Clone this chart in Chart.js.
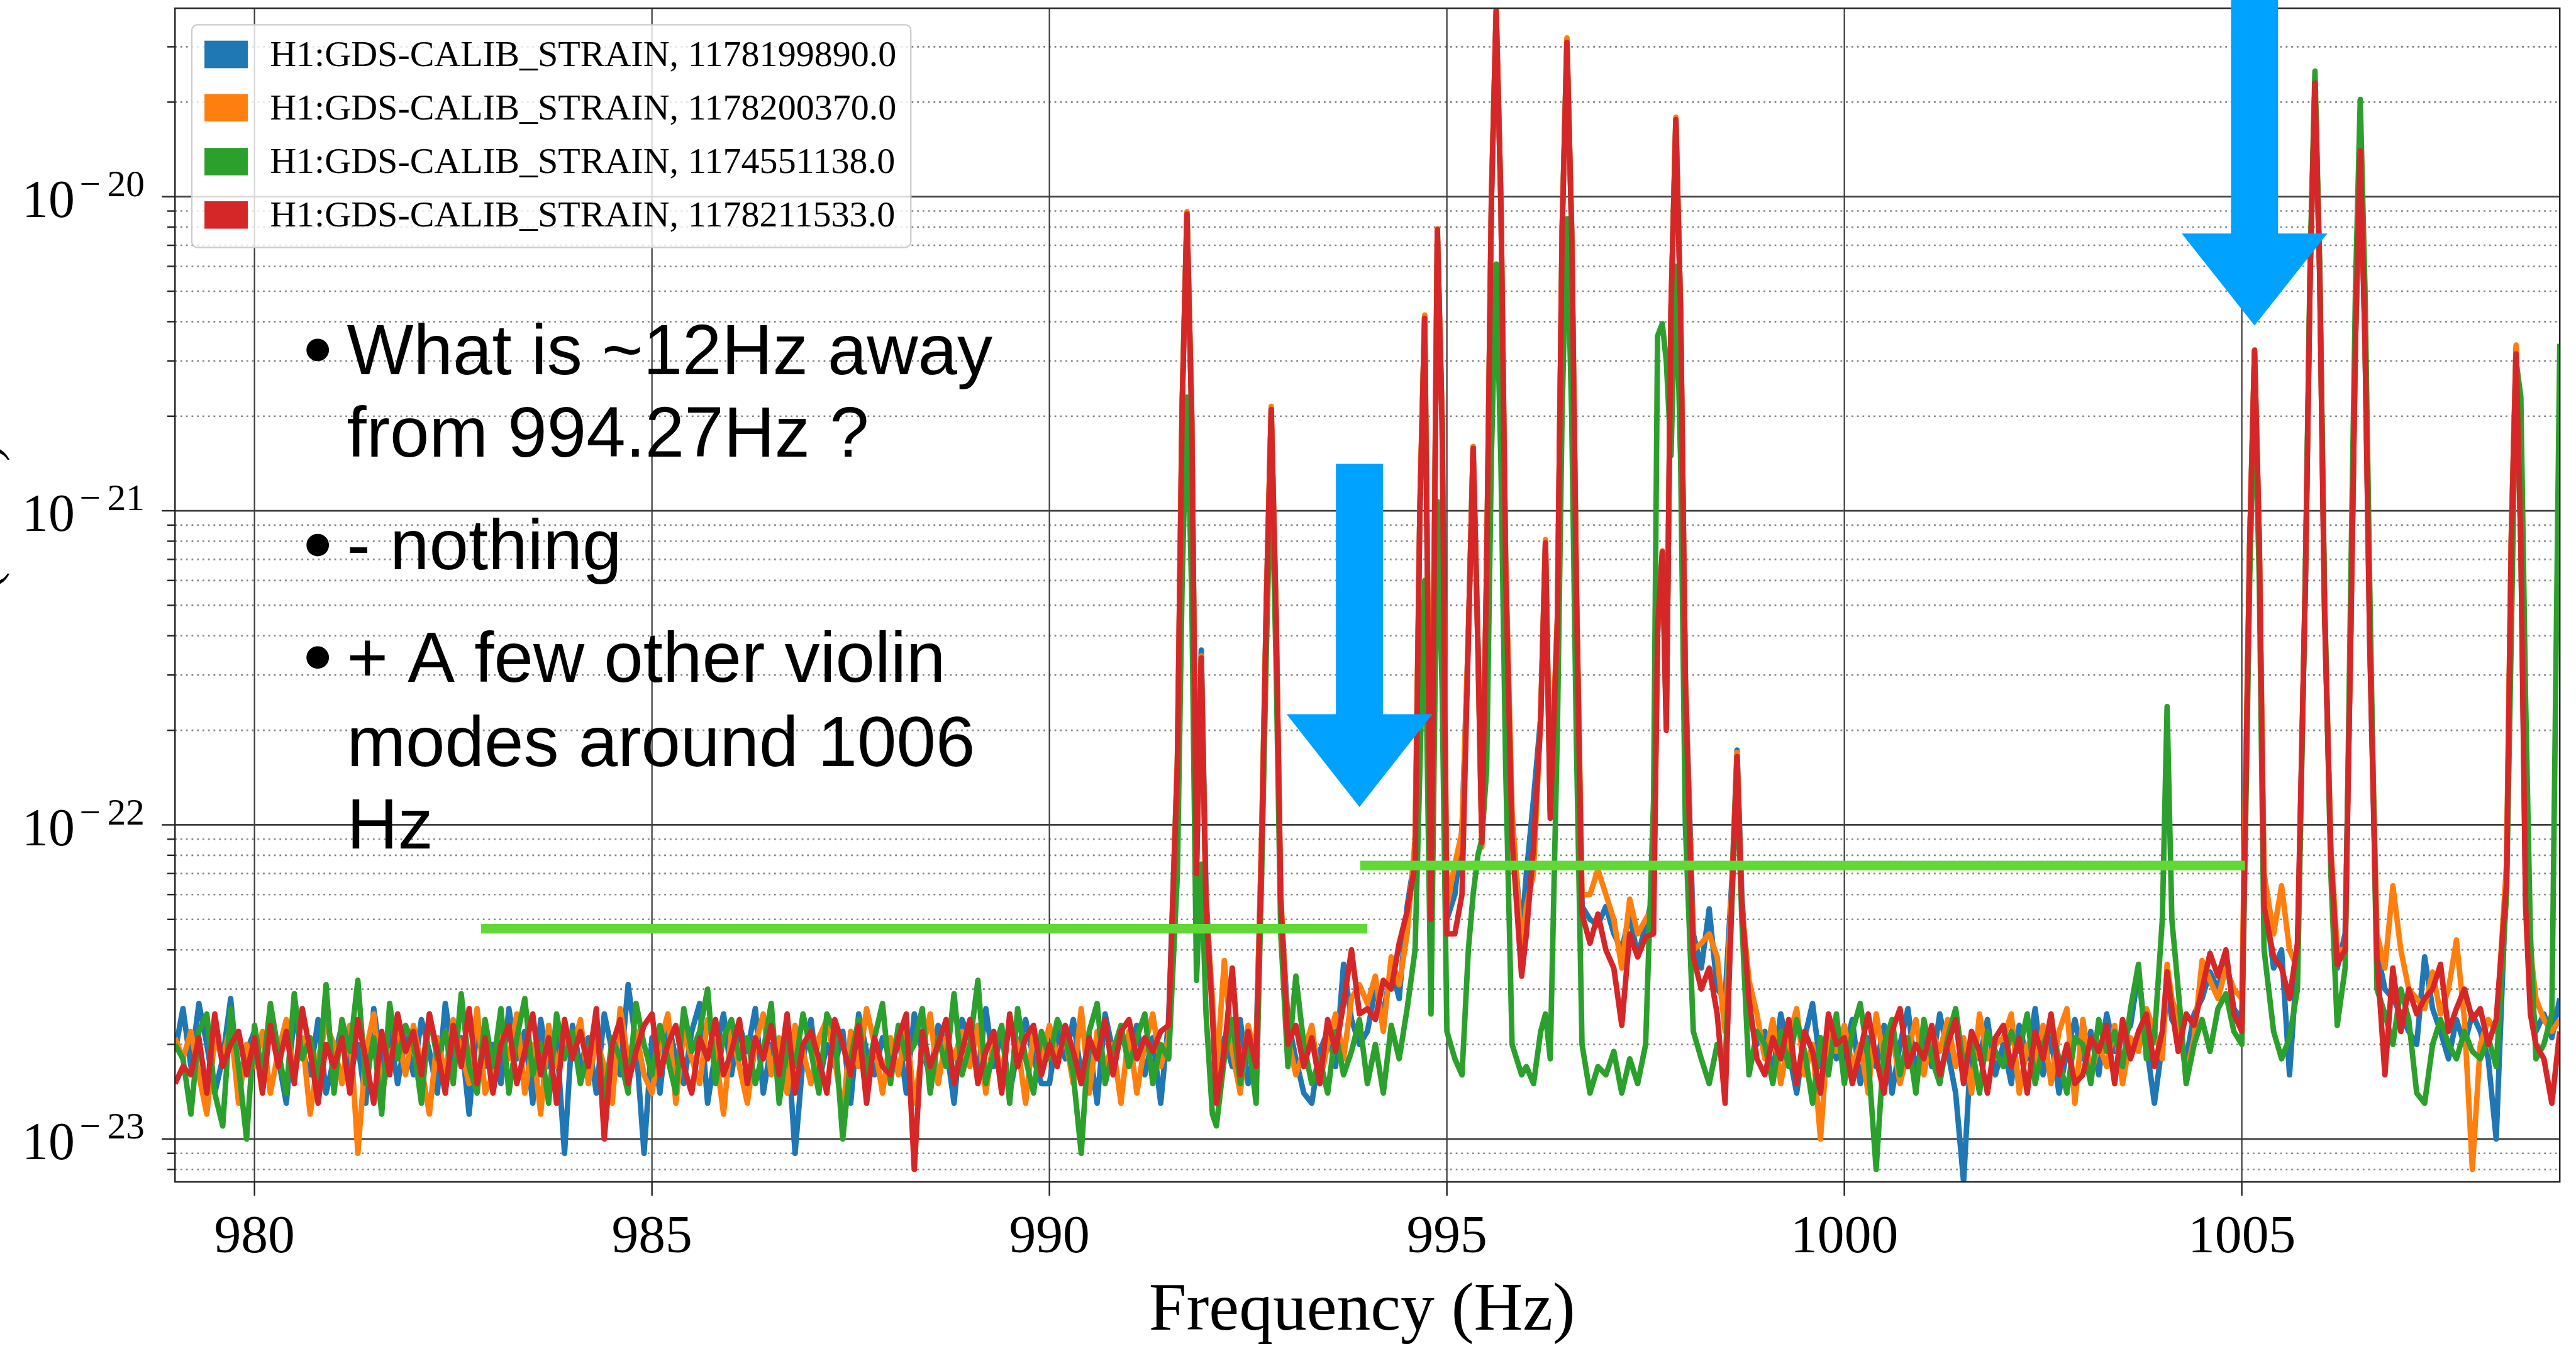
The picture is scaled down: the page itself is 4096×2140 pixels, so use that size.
<!DOCTYPE html>
<html>
<head>
<meta charset="utf-8">
<title>H1 strain spectra around the 1 kHz violin modes</title>
<script src="https://cdn.jsdelivr.net/npm/chart.js@4.4.1/dist/chart.umd.min.js"></script>
<style>
  html, body { margin: 0; padding: 0; background: #fff; overflow: hidden; }
  #wrap { width: 4096px; height: 2140px; }
</style>
</head>
<body>
<div id="wrap"><canvas id="asd" width="4096" height="2140"></canvas></div>
<script>
// Sample frequencies (Hz), shared by the four spectra.
// 0.1 Hz apart in the noise, closer around the violin-mode lines.
const freqs = [
  979, 979.1, 979.2, 979.3, 979.4, 979.5, 979.6, 979.7, 979.8, 979.9,
  980, 980.1, 980.2, 980.3, 980.4, 980.5, 980.6, 980.7, 980.8, 980.9,
  981, 981.1, 981.2, 981.3, 981.4, 981.5, 981.6, 981.7, 981.8, 981.9,
  982, 982.1, 982.2, 982.3, 982.4, 982.5, 982.6, 982.7, 982.8, 982.9,
  983, 983.1, 983.2, 983.3, 983.4, 983.5, 983.6, 983.7, 983.8, 983.9,
  984, 984.1, 984.2, 984.3, 984.4, 984.5, 984.6, 984.7, 984.8, 984.9,
  985, 985.1, 985.2, 985.3, 985.4, 985.5, 985.6, 985.7, 985.8, 985.9,
  986, 986.1, 986.2, 986.3, 986.4, 986.5, 986.6, 986.7, 986.8, 986.9,
  987, 987.1, 987.2, 987.3, 987.4, 987.5, 987.6, 987.7, 987.8, 987.9,
  988, 988.1, 988.2, 988.3, 988.4, 988.5, 988.6, 988.7, 988.8, 988.9,
  989, 989.1, 989.2, 989.3, 989.4, 989.5, 989.6, 989.7, 989.8, 989.9,
  990, 990.1, 990.2, 990.3, 990.4, 990.5, 990.6, 990.7, 990.8, 990.9,
  991, 991.1, 991.2, 991.3, 991.4, 991.5, 991.61, 991.67, 991.73, 991.79, 991.85, 991.91, 991.97,
  992.05, 992.1, 992.2, 992.3, 992.4, 992.5, 992.6, 992.67, 992.73, 992.79, 992.85, 992.91,
  993, 993.1, 993.2, 993.3, 993.4, 993.5, 993.6, 993.7, 993.8, 993.9,
  994, 994.1, 994.2, 994.3, 994.4, 994.5, 994.6, 994.66, 994.72, 994.8, 994.88, 994.94,
  995, 995.1, 995.19, 995.27, 995.33, 995.39, 995.44, 995.5, 995.56, 995.62, 995.68, 995.74, 995.82, 995.94,
  996, 996.09, 996.18, 996.24, 996.3, 996.39, 996.45, 996.51, 996.57, 996.63, 996.7, 996.8, 996.9,
  997, 997.1, 997.2, 997.3, 997.4, 997.5, 997.6, 997.65, 997.71, 997.76, 997.82, 997.88, 997.94,
  998, 998.1, 998.2, 998.3, 998.4, 998.5, 998.59, 998.65, 998.71, 998.8, 998.9,
  999, 999.1, 999.2, 999.3, 999.4, 999.5, 999.6, 999.7, 999.8, 999.9,
  1000, 1000.1, 1000.2, 1000.3, 1000.4, 1000.5, 1000.6, 1000.7, 1000.8, 1000.9,
  1001, 1001.1, 1001.2, 1001.3, 1001.4, 1001.5, 1001.6, 1001.7, 1001.8, 1001.9,
  1002, 1002.1, 1002.2, 1002.3, 1002.4, 1002.5, 1002.6, 1002.7, 1002.8, 1002.9,
  1003, 1003.1, 1003.2, 1003.3, 1003.4, 1003.5, 1003.6, 1003.7, 1003.8, 1003.9,
  1004, 1004.06, 1004.12, 1004.2, 1004.3, 1004.4, 1004.5, 1004.6, 1004.7, 1004.8, 1004.9,
  1005, 1005.1, 1005.16, 1005.22, 1005.28, 1005.4, 1005.5, 1005.6, 1005.7, 1005.8, 1005.86, 1005.92, 1005.98,
  1006.04, 1006.12, 1006.2, 1006.3, 1006.37, 1006.43, 1006.49, 1006.55, 1006.61, 1006.7, 1006.8, 1006.9,
  1007, 1007.1, 1007.2, 1007.3, 1007.4, 1007.5, 1007.6, 1007.7, 1007.8, 1007.9,
  1008, 1008.1, 1008.2, 1008.33, 1008.39, 1008.45, 1008.51, 1008.57, 1008.63, 1008.7, 1008.8, 1008.9,
  1009
];

// ASD values in units of 1e-24 strain/sqrt(Hz), one row per Hz
const unit = 1e-24;

const blueAsd = [
  19, 26, 17, 27, 20, 14, 18, 28, 15, 19,
  22, 15, 24, 18, 13, 25, 19, 16, 24, 14,
  18, 23, 16, 20, 13, 26, 17, 22, 15, 21,
  16, 24, 19, 14, 27, 18, 21, 12, 23, 17,
  20, 15, 26, 18, 22, 13, 24, 17, 21, 9,
  23, 17, 21, 14, 25, 19, 16, 31, 20, 9,
  21, 14, 24, 18, 15, 22, 27, 13, 19, 25,
  16, 23, 19, 26, 14, 20, 17, 22, 9, 18,
  24, 15, 20, 17, 22, 13, 25, 19, 16, 21,
  18, 22, 14, 25, 19, 16, 23, 20, 13, 24,
  21, 16, 26, 17, 22, 14, 19, 24, 18, 15,
  15, 22, 18, 24, 16, 20, 13, 25, 19, 21,
  19, 23, 16, 21, 13, 24, 160, 2200, 8900, 2000, 72, 360, 60,
  26, 14, 21, 17, 24, 15, 20, 90, 520, 2120, 480, 55,
  24, 18, 14, 13, 19, 22, 17, 36, 24, 20,
  22, 30, 25, 35, 28, 55, 80, 1000, 4150, 60, 7800, 1900,
  50, 60, 97, 400, 1600, 380, 90, 650, 9800, 39000, 9500, 650, 100, 45,
  70, 121, 220, 800, 110, 450, 7900, 31500, 7700, 550, 55, 50, 48,
  55, 45, 40, 52, 38, 48, 60, 400, 720, 220, 4400, 17700, 4300,
  300, 45, 35, 54, 30, 28, 70, 173, 60, 25, 20,
  22, 16, 25, 19, 14, 21, 27, 17, 23, 18,
  19, 24, 15, 21, 17, 23, 14, 20, 26, 16,
  22, 17, 25, 19, 14, 7.3, 21, 18, 24, 16,
  20, 15, 23, 18, 26, 16, 21, 14, 19, 24,
  18, 22, 16, 25, 19, 21, 23, 34, 20, 13,
  20, 30, 24, 22, 18, 25, 28, 34, 30, 38, 26,
  24, 800, 3200, 780, 60, 35, 40, 16, 38, 600, 5800, 23000, 5600,
  500, 80, 35, 45, 400, 3500, 14000, 3400, 380, 40, 30, 28,
  25, 22, 20, 38, 26, 22, 18, 24, 20, 25,
  22, 18, 10, 70, 820, 3300, 800, 60, 30, 22, 25, 21,
  28
];

const orangeAsd = [
  21, 18, 22, 16, 12, 21, 18, 23, 13, 20,
  17, 22, 14, 19, 24, 16, 21, 12, 18, 23,
  20, 15, 23, 9, 19, 25, 14, 18, 22, 16,
  23, 17, 12, 21, 16, 24, 19, 15, 26, 14,
  16, 22, 18, 25, 14, 20, 12, 23, 17, 21,
  19, 24, 15, 21, 17, 13, 26, 18, 22, 16,
  14, 20, 25, 13, 22, 18, 15, 24, 19, 12,
  22, 17, 13, 20, 25, 16, 21, 14, 23, 19,
  15, 21, 24, 18, 12, 22, 17, 26, 20, 14,
  21, 16, 23, 13, 19, 25, 15, 21, 18, 22,
  17, 23, 14, 21, 16, 24, 20, 13, 22, 18,
  23, 18, 21, 15, 26, 14, 22, 17, 20, 13,
  22, 14, 20, 25, 17, 21, 165, 2250, 8950, 2050, 75, 345, 55,
  28, 16, 37, 19, 14, 23, 18, 95, 530, 2150, 490, 60,
  21, 16, 19, 23, 15, 20, 25, 18, 28, 31,
  27, 33, 22, 38, 31, 45, 90, 1050, 4200, 70, 7900, 1950,
  55, 75, 95, 400, 1600, 370, 85, 670, 9900, 39500, 9600, 680, 110, 40,
  55, 70, 225, 810, 115, 460, 8000, 32000, 7800, 570, 60, 60, 72,
  60, 50, 35, 58, 45, 50, 55, 410, 745, 215, 4500, 17900, 4400,
  290, 40, 42, 45, 38, 22, 68, 170, 55, 32, 25,
  18, 24, 15, 21, 26, 16, 20, 10, 23, 19,
  23, 17, 20, 14, 25, 18, 22, 15, 19, 24,
  16, 22, 19, 24, 17, 21, 14, 25, 18, 20,
  21, 25, 14, 20, 17, 23, 15, 22, 26, 13,
  24, 16, 20, 17, 23, 15, 21, 19, 26, 22,
  18, 36, 28, 24, 16, 21, 37, 32, 28, 35, 30,
  28, 820, 3250, 800, 70, 45, 64, 40, 35, 620, 5900, 23500, 5700,
  520, 85, 40, 40, 410, 3550, 14200, 3450, 400, 45, 35, 64,
  40, 30, 28, 26, 34, 25, 30, 43, 24, 8,
  20, 24, 22, 75, 840, 3370, 820, 70, 40, 28, 24, 22,
  24
];

const greenAsd = [
  20, 18, 12, 22, 25, 14, 11, 26, 17, 10,
  23, 16, 27, 19, 14, 29, 18, 21, 15, 31,
  14, 24, 19, 32, 15, 21, 12, 27, 18, 23,
  20, 13, 25, 18, 22, 15, 29, 17, 14, 24,
  17, 26, 14, 21, 28, 16, 20, 13, 25, 18,
  22, 15, 19, 24, 13, 21, 18, 14, 27, 20,
  16, 23, 18, 14, 26, 19, 22, 30, 15, 21,
  24, 18, 21, 15, 19, 27, 13, 20, 17, 25,
  19, 14, 25, 22, 10, 18, 24, 16, 21, 27,
  15, 23, 18, 20, 26, 14, 21, 17, 29, 16,
  20, 32, 15, 19, 23, 13, 26, 18, 14, 22,
  18, 24, 21, 16, 9, 22, 27, 15, 19, 23,
  17, 21, 25, 15, 20, 18, 70, 600, 2300, 550, 32, 75, 25,
  12, 11, 18, 24, 15, 21, 13, 70, 370, 1500, 340, 45,
  17, 33, 20, 15, 18, 14, 22, 16, 19, 24,
  15, 20, 14, 23, 18, 26, 40, 150, 600, 25, 1070, 270,
  22, 18, 16, 40, 60, 80, 90, 150, 1500, 6100, 1400, 150, 20, 16,
  17, 15, 22, 25, 18, 200, 2100, 8500, 2000, 180, 20, 14, 17,
  16, 19, 14, 18, 15, 20, 120, 3600, 3940, 3000, 1500, 6000, 1450,
  100, 22, 18, 15, 20, 17, 60, 150, 50, 16, 22,
  20, 15, 22, 17, 24, 19, 13, 21, 16, 25,
  15, 22, 27, 18, 8, 20, 24, 16, 21, 14,
  24, 18, 15, 21, 26, 17, 20, 14, 22, 19,
  17, 22, 19, 25, 15, 20, 23, 18, 14, 21,
  20, 15, 24, 19, 22, 17, 26, 36, 18, 21,
  50, 238, 50, 30, 15, 20, 24, 19, 26, 29, 22,
  20, 620, 2500, 600, 40, 22, 18, 21, 30, 640, 6300, 25100, 6100,
  540, 70, 23, 35, 580, 5100, 20400, 5000, 560, 30, 25, 20,
  30, 24, 14, 13, 20, 24, 20, 18, 22, 19,
  18, 21, 17, 60, 400, 3000, 2300, 250, 45, 18, 20, 25,
  3400
];

const redAsd = [
  15, 17, 16, 21, 14, 25, 17, 20, 22, 16,
  21, 14, 23, 17, 22, 15, 26, 19, 13, 20,
  17, 21, 14, 24, 18, 13, 22, 16, 25, 19,
  22, 16, 25, 19, 14, 23, 17, 26, 15, 21,
  14, 20, 23, 15, 19, 25, 16, 21, 13, 24,
  18, 22, 17, 26, 10, 20, 24, 15, 19, 23,
  25, 16, 20, 23, 17, 14, 21, 18, 24, 16,
  19, 24, 15, 21, 18, 23, 16, 25, 14, 20,
  22, 18, 14, 24, 20, 16, 23, 13, 21, 17,
  16, 21, 25, 8, 22, 17, 20, 24, 15, 19,
  24, 15, 19, 22, 14, 25, 17, 21, 23, 16,
  20, 17, 23, 19, 15, 21, 18, 24, 16, 22,
  24, 18, 21, 19, 22, 23, 155, 2150, 8800, 1950, 70, 340, 55,
  25, 13, 19, 35, 16, 22, 17, 85, 510, 2100, 470, 58,
  20, 23, 17, 21, 15, 24, 19, 27, 40, 25,
  26, 24, 32, 30, 42, 53, 75, 1000, 4100, 50, 7850, 1900,
  45, 45, 60, 395, 1580, 375, 88, 640, 9700, 39000, 9400, 620, 90, 33,
  45, 85, 215, 790, 105, 440, 7800, 31000, 7600, 530, 52, 42, 52,
  40, 35, 23, 45, 38, 44, 45, 420, 740, 200, 4400, 17600, 4300,
  280, 38, 30, 35, 25, 13, 65, 165, 55, 28, 18,
  16, 21, 18, 24, 15, 22, 19, 14, 25, 20,
  21, 15, 19, 25, 18, 14, 22, 26, 17, 20,
  18, 23, 16, 20, 24, 15, 22, 19, 14, 21,
  23, 17, 21, 14, 22, 18, 25, 16, 20, 15,
  16, 21, 19, 23, 15, 24, 18, 22, 25, 17,
  22, 34, 26, 19, 25, 23, 30, 39, 33, 40, 25,
  22, 800, 3240, 790, 55, 38, 35, 28, 42, 590, 5700, 23000, 5500,
  480, 80, 36, 40, 390, 3500, 14000, 3400, 370, 38, 16, 35,
  22, 30, 25, 28, 30, 36, 22, 26, 30, 24,
  26, 20, 24, 65, 800, 3160, 780, 55, 25, 20, 18, 13,
  22
];

const seriesLabels = [
  'H1:GDS-CALIB_STRAIN, 1178199890.0',
  'H1:GDS-CALIB_STRAIN, 1178200370.0',
  'H1:GDS-CALIB_STRAIN, 1174551138.0',
  'H1:GDS-CALIB_STRAIN, 1178211533.0'
];
const seriesColors = ['#1f77b4', '#ff7f0e', '#2ca02c', '#d62728'];

const xTicks = [980, 985, 990, 995, 1000, 1005];
const xTitle = 'Frequency (Hz)';
const yDecades = [-24, -23, -22, -21, -20];
const yMantissas = [1, 2, 3, 4, 5, 6, 7, 8, 9];

// slide notes put on top of the plot
const noteText = [
  'What is ~12Hz away',
  'from 994.27Hz ?',
  '- nothing',
  '+ A few other violin',
  'modes around 1006',
  'Hz'
];
const noteBullet = [true, false, true, true, false, false];

// arrows and guide bars, in data coordinates
const arrowFreq = [993.9, 1005.16];
const arrowTip = [1.14e-22, 3.89e-21];
const arrowHead = [2.25e-22, 7.63e-21];
const arrowTail = [1.41e-21, 1e-19];
const barFrom = [982.85, 993.91];
const barTo = [994.0, 1005.04];
const barLevel = [4.67e-23, 7.42e-23];

[blueAsd, orangeAsd, greenAsd, redAsd].forEach((a, i) => {
  if (a.length !== freqs.length) throw new Error('series ' + i + ' has ' + a.length + ' values, freqs has ' + freqs.length);
});

// everything is laid out in reference pixels, drawn at 0.874
const px = v => v * 0.874;

const serif = '"Liberation Serif", "DejaVu Serif", serif';
const sans = '"Liberation Sans", Arial, sans-serif';

function fitSize(ctx, text, width, family) {
  ctx.font = '100px ' + family;
  return 100 * width / ctx.measureText(text).width;
}

function hline(ctx, x0, x1, y) {
  ctx.beginPath(); ctx.moveTo(x0, y); ctx.lineTo(x1, y); ctx.stroke();
}
function vline(ctx, x, y0, y1) {
  ctx.beginPath(); ctx.moveTo(x, y0); ctx.lineTo(x, y1); ctx.stroke();
}

const gridPlugin = {
  id: 'mplGrid',
  beforeDatasetsDraw(chart) {
    const { ctx, chartArea: a, scales: { x, y } } = chart;
    ctx.save();
    ctx.beginPath();
    ctx.rect(a.left, a.top, a.right - a.left, a.bottom - a.top);
    ctx.clip();
    // minor rows, dotted
    ctx.strokeStyle = '#858585';
    ctx.lineWidth = px(3);
    ctx.setLineDash([px(3.2), px(6.8)]);
    y.ticks.forEach(t => {
      if (!t.major) hline(ctx, a.left, a.right, y.getPixelForValue(t.value));
    });
    // major rows and columns
    ctx.setLineDash([]);
    ctx.strokeStyle = '#404040';
    ctx.lineWidth = px(3.2);
    y.ticks.forEach(t => {
      if (t.major) hline(ctx, a.left, a.right, y.getPixelForValue(t.value));
    });
    ctx.lineWidth = px(2.6);
    x.ticks.forEach(t => vline(ctx, x.getPixelForValue(t.value), a.top, a.bottom));
    ctx.restore();
  },
  afterDatasetsDraw(chart) {
    const { ctx, chartArea: a, scales: { x, y } } = chart;
    ctx.save();

    // spines
    ctx.strokeStyle = '#262626';
    ctx.lineWidth = px(2.8);
    ctx.strokeRect(a.left, a.top, a.right - a.left, a.bottom - a.top);

    // tick marks
    y.ticks.forEach(t => {
      const yy = y.getPixelForValue(t.value);
      hline(ctx, a.left - (t.major ? px(24) : px(14)), a.left, yy);
    });
    x.ticks.forEach(t => {
      vline(ctx, x.getPixelForValue(t.value), a.bottom, a.bottom + px(25));
    });

    // tick labels
    ctx.fillStyle = '#000';
    ctx.textBaseline = 'alphabetic';
    ctx.font = px(98) + 'px ' + serif;
    ctx.textAlign = 'center';
    x.ticks.forEach(t => ctx.fillText(String(t.value), x.getPixelForValue(t.value), px(2278)));

    y.ticks.forEach(t => {
      if (!t.major) return;
      const yy = y.getPixelForValue(t.value);
      const expo = Math.round(Math.log10(t.value));
      ctx.font = px(96) + 'px ' + serif;
      ctx.textAlign = 'left';
      ctx.fillText('10', px(40), yy + px(37));
      ctx.font = px(68) + 'px ' + serif;
      ctx.textAlign = 'center';
      ctx.fillText('\u2212', px(164), yy - px(1));
      ctx.textAlign = 'right';
      ctx.fillText(String(Math.abs(expo)), px(263), yy - px(1));
    });

    // axis title
    const ts = fitSize(ctx, xTitle, px(776), serif);
    ctx.font = ts + 'px ' + serif;
    ctx.textAlign = 'center';
    ctx.fillText(xTitle, px(2478), px(2419));

    // y title: only the ends of its brackets show at the page edge
    [['(', 1056], [')', 824]].forEach(([ch, cy]) => {
      ctx.save();
      ctx.font = px(92) + 'px ' + serif;
      ctx.textAlign = 'center';
      ctx.translate(px(-2), px(cy));
      ctx.rotate(-Math.PI / 2);
      ctx.fillText(ch, 0, 0);
      ctx.restore();
    });

    // legend
    const L = px(349), T = px(45), R = px(1657), B = px(450), rad = px(10);
    ctx.beginPath();
    ctx.moveTo(L + rad, T);
    ctx.arcTo(R, T, R, B, rad);
    ctx.arcTo(R, B, L, B, rad);
    ctx.arcTo(L, B, L, T, rad);
    ctx.arcTo(L, T, R, T, rad);
    ctx.closePath();
    ctx.fillStyle = 'rgba(255,255,255,0.8)';
    ctx.fill();
    ctx.strokeStyle = '#cccccc';
    ctx.lineWidth = px(2.6);
    ctx.stroke();
    const ls = fitSize(ctx, seriesLabels[0], px(1140), serif);
    ctx.font = ls + 'px ' + serif;
    ctx.textAlign = 'left';
    const rowMid = [99, 196, 294, 391];
    chart.data.datasets.forEach((ds, i) => {
      const cy = px(rowMid[i]);
      ctx.fillStyle = ds.borderColor;
      ctx.fillRect(px(372), cy - px(25), px(79), px(50));
      ctx.fillStyle = '#000';
      ctx.fillText(ds.label, px(491), cy + px(21));
    });

    // green guide bars
    ctx.strokeStyle = '#62d836';
    ctx.lineWidth = px(17.6);
    ctx.lineCap = 'butt';
    barFrom.forEach((f, i) => {
      hline(ctx, x.getPixelForValue(f), x.getPixelForValue(barTo[i]), y.getPixelForValue(barLevel[i]));
    });

    // blue arrows
    ctx.fillStyle = '#00a2ff';
    const sw = px(85.6) / 2, hw = px(265) / 2;
    arrowFreq.forEach((f, i) => {
      const cx = x.getPixelForValue(f);
      const tip = y.getPixelForValue(arrowTip[i]);
      const head = y.getPixelForValue(arrowHead[i]);
      const tail = y.getPixelForValue(arrowTail[i]);
      ctx.beginPath();
      ctx.moveTo(cx - sw, tail);
      ctx.lineTo(cx + sw, tail);
      ctx.lineTo(cx + sw, head);
      ctx.lineTo(cx + hw, head);
      ctx.lineTo(cx, tip);
      ctx.lineTo(cx - hw, head);
      ctx.lineTo(cx - sw, head);
      ctx.closePath();
      ctx.fill();
    });

    // notes
    const noteBase = [680.6, 831, 1035.5, 1240, 1393.7, 1544];
    ctx.fillStyle = '#000';
    ctx.font = px(128.5) + 'px ' + sans;
    ctx.textAlign = 'left';
    noteText.forEach((txt, i) => {
      const base = px(noteBase[i]);
      if (noteBullet[i]) {
        ctx.beginPath();
        ctx.arc(px(578), base - px(44), px(20.5), 0, Math.PI * 2);
        ctx.fill();
      }
      ctx.fillText(txt, px(631), base);
    });

    ctx.restore();
  }
};

const seriesValues = [blueAsd, orangeAsd, greenAsd, redAsd];
const datasets = seriesValues.map((vals, i) => ({
  label: seriesLabels[i],
  data: freqs.map((f, k) => ({ x: f, y: vals[k] * unit })),
  borderColor: seriesColors[i],
  backgroundColor: seriesColors[i],
  borderWidth: px(10),
  borderJoinStyle: 'round',
  borderCapStyle: 'butt',
  pointRadius: 0,
  tension: 0,
  fill: false,
  order: 4 - i   // red last, on top
}));

new Chart(document.getElementById('asd').getContext('2d'), {
  type: 'line',
  data: { datasets: datasets },
  options: {
    responsive: false,
    animation: false,
    devicePixelRatio: 1,
    events: [],
    layout: { padding: { left: 0, top: px(15), right: 4096 - px(4657), bottom: 0 } },
    plugins: { legend: { display: false }, tooltip: { enabled: false } },
    scales: {
      x: {
        type: 'linear',
        position: 'bottom',
        min: 979,
        max: 1009,
        grid: { display: false, drawTicks: false },
        border: { display: false },
        ticks: { display: false, autoSkip: false },
        afterBuildTicks: s => { s.ticks = xTicks.map(v => ({ value: v })); },
        afterFit: s => { s.height = 2140 - px(2150); }
      },
      y: {
        type: 'logarithmic',
        position: 'left',
        min: 7.3e-24,
        max: 3.98e-20,
        grid: { display: false, drawTicks: false },
        border: { display: false },
        ticks: { display: false, autoSkip: false },
        afterBuildTicks: s => {
          const t = [];
          yDecades.forEach(e => yMantissas.forEach(m => {
            const v = m * Math.pow(10, e);
            if (v >= s.min * 0.999 && v <= s.max * 1.001) t.push({ value: v, major: m === 1 });
          }));
          s.ticks = t;
        },
        afterFit: s => { s.width = px(318.4); }
      }
    }
  },
  plugins: [gridPlugin]
});
</script>
</body>
</html>
